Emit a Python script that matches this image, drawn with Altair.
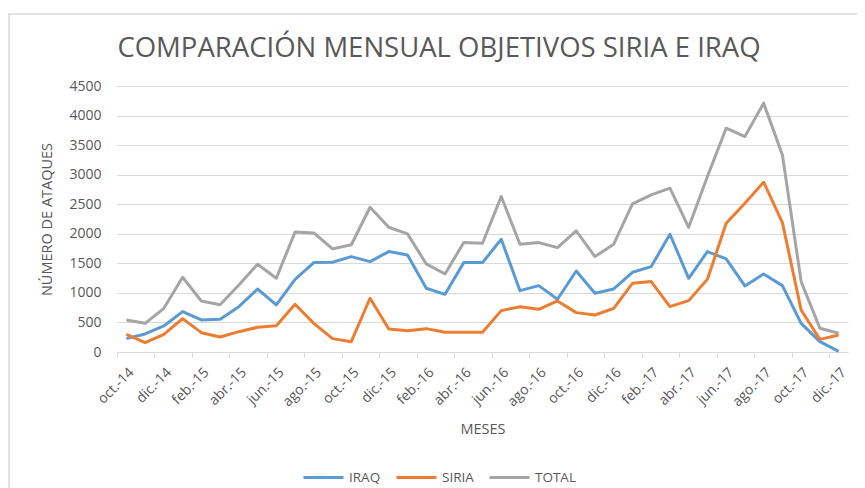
import json
import altair as alt
import pandas as pd

months = ["oct.-14", "nov.-14", "dic.-14", "ene.-15", "feb.-15", "mar.-15", "abr.-15", "may.-15",
          "jun.-15", "jul.-15", "ago.-15", "sep.-15", "oct.-15", "nov.-15", "dic.-15", "ene.-16",
          "feb.-16", "mar.-16", "abr.-16", "may.-16", "jun.-16", "jul.-16", "ago.-16", "sep.-16",
          "oct.-16", "nov.-16", "dic.-16", "ene.-17", "feb.-17", "mar.-17", "abr.-17", "may.-17",
          "jun.-17", "jul.-17", "ago.-17", "sep.-17", "oct.-17", "nov.-17", "dic.-17"]

iraq = [226, 305, 440, 683, 542, 553, 767, 1066, 796, 1230, 1512, 1518, 1614,
        1529, 1699, 1642, 1078, 976, 1512, 1512, 1907, 1038, 1123, 892, 1371,
        993, 1067, 1349, 1445, 1992, 1247, 1699, 1574, 1117, 1320, 1123, 485, 175, 10]

siria = [299, 158, 299, 564, 327, 254, 344, 418, 446, 807, 485, 226, 175,
         909, 389, 361, 395, 333, 333, 333, 700, 767, 722, 863, 666,
         626, 739, 1162, 1191, 767, 869, 1230, 2178, 2517, 2872, 2189, 711, 214, 288]

total = [542, 485, 739, 1264, 863, 800, 1134, 1484, 1247, 2031, 2015, 1744, 1814,
         2449, 2110, 1998, 1490, 1320, 1851, 1840, 2630, 1823, 1851, 1766, 2048,
         1614, 1823, 2505, 2658, 2771, 2110, 2968, 3786, 3645, 4210, 3335, 1191, 401, 316]

series_names = ["IRAQ", "SIRIA", "TOTAL"]
series_colors = ["#5B9BD5", "#ED7D31", "#A5A5A5"]
y_ticks = list(range(0, 4501, 500))
title_text = "COMPARACIÓN MENSUAL OBJETIVOS SIRIA E IRAQ"

rows = []
for name, vals in zip(series_names, [iraq, siria, total]):
    for i, v in enumerate(vals):
        rows.append({"idx": i, "mes": months[i], "serie": name, "valor": v})
df = pd.DataFrame(rows)

n = len(months)
tick_vals = [k - 0.5 for k in range(0, n, 2)]
W, H = 731, 266
step = W / n
label_expr = json.dumps(months) + "[round(datum.value + 0.5)]"

FONT = "Open Sans"
TXT = "#595959"
GRID = "#D9D9D9"

lines = alt.Chart(df).mark_line(strokeWidth=3, strokeJoin="round").encode(
    x=alt.X("idx:Q",
            scale=alt.Scale(domain=[-0.5, n - 0.5], nice=False, zero=False),
            axis=alt.Axis(values=tick_vals, labelExpr=label_expr, labelOffset=step / 2,
                          labelAngle=-45, labelAlign="right", labelBaseline="top",
                          labelFontSize=14, labelColor=TXT, labelFont=FONT,
                          labelPadding=8, tickSize=5, tickColor=GRID, domainColor=GRID,
                          domainWidth=1.2, grid=False, labelOverlap=False,
                          title="MESES", titleFont=FONT, titleFontSize=14.5,
                          titleFontWeight="normal", titleColor=TXT, titlePadding=14)),
    y=alt.Y("valor:Q",
            scale=alt.Scale(domain=[0, 4500], nice=False),
            axis=alt.Axis(values=y_ticks, format="d", grid=True, gridColor=GRID, gridWidth=1.2,
                          domain=False, ticks=False, labelFontSize=14, labelColor=TXT,
                          labelFont=FONT, labelPadding=16,
                          title="NÚMERO DE ATAQUES", titleFont=FONT, titleFontSize=14.5,
                          titleFontWeight="normal", titleColor=TXT, titlePadding=14)),
    color=alt.Color("serie:N",
                    scale=alt.Scale(domain=series_names, range=series_colors),
                    legend=alt.Legend(title=None, orient="none", direction="horizontal",
                                      legendX=185, legendY=370, symbolType="stroke",
                                      symbolSize=1600, symbolStrokeWidth=3,
                                      labelFont=FONT, labelFontSize=13.5, labelColor=TXT,
                                      labelOffset=4, columnPadding=9)),
)

frame = alt.Chart(alt.Data(values=[{}])).mark_rect(
    fill="transparent", stroke=GRID, strokeWidth=1.5
).encode(x=alt.value(-108), y=alt.value(-72), x2=alt.value(760), y2=alt.value(430))

title = alt.Chart(alt.Data(values=[{}])).mark_text(
    font=FONT, fontSize=27.5, fontWeight="normal", color=TXT, align="center", baseline="middle"
).encode(x=alt.value(322), y=alt.value(-37), text=alt.value(title_text))

chart = alt.layer(frame, title, lines).properties(
    width=W, height=H,
    autosize=alt.AutoSizeParams(type="none"),
    padding={"left": 109, "top": 78, "right": 9, "bottom": 136},
).configure_view(stroke=None)

chart.save("out.html", embed_options={"renderer": "svg", "actions": False})
